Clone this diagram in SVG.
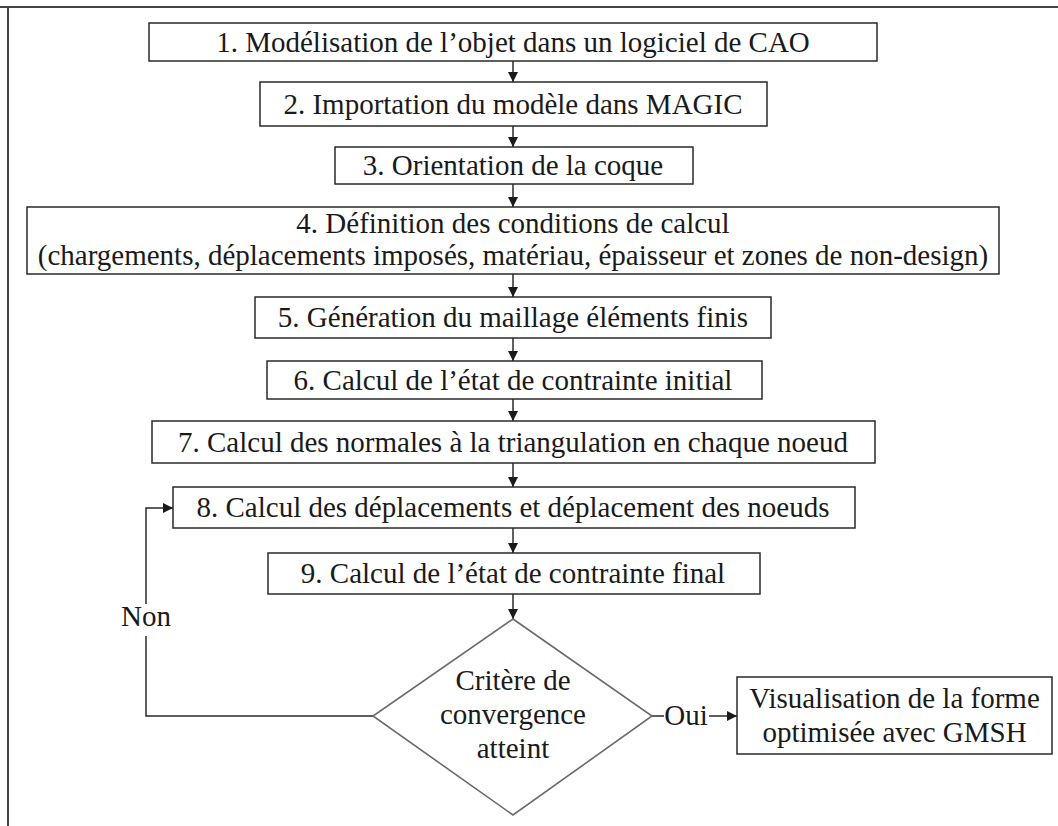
<svg xmlns="http://www.w3.org/2000/svg" width="1058" height="826" viewBox="0 0 1058 826">
<style>
  .box { fill: #ffffff; stroke: #2a2a2a; stroke-width: 1.5; }
  .dia { fill: #ffffff; stroke: #6a6a6a; stroke-width: 1.6; }
  .t { font-family: "Liberation Serif", "Times New Roman", serif; font-size: 29px; fill: #1a1a1a; text-anchor: middle; }
  .ln { fill: none; stroke: #2a2a2a; stroke-width: 1.5; }
  .frame { fill: none; stroke: #444; stroke-width: 2; }
</style>
<defs>
  <marker id="ah" viewBox="0 0 10 10" refX="10" refY="5" markerWidth="10" markerHeight="10" markerUnits="userSpaceOnUse" orient="auto">
    <path d="M0,0 L10,5 L0,10 z" fill="#1a1a1a"/>
  </marker>
</defs>
<rect width="1058" height="826" fill="#ffffff"/>
<g id="frame">
  <line class="frame" x1="0" y1="7" x2="1058" y2="7"/>
  <line class="frame" x1="8" y1="7" x2="8" y2="826"/>
</g>
<g id="connectors">
  <line class="ln" x1="513" y1="61" x2="513" y2="82" marker-end="url(#ah)"/>
  <line class="ln" x1="513" y1="126" x2="513" y2="147" marker-end="url(#ah)"/>
  <line class="ln" x1="513" y1="184" x2="513" y2="207" marker-end="url(#ah)"/>
  <line class="ln" x1="513" y1="274" x2="513" y2="297" marker-end="url(#ah)"/>
  <line class="ln" x1="513" y1="338" x2="513" y2="361" marker-end="url(#ah)"/>
  <line class="ln" x1="513" y1="399" x2="513" y2="421" marker-end="url(#ah)"/>
  <line class="ln" x1="513" y1="463" x2="513" y2="487" marker-end="url(#ah)"/>
  <line class="ln" x1="513" y1="528" x2="513" y2="553" marker-end="url(#ah)"/>
  <line class="ln" x1="513" y1="594" x2="513" y2="619" marker-end="url(#ah)"/>
  <polyline class="ln" points="373,716 146,716 146,636"/>
  <polyline class="ln" points="146,604 146,508 173,508" marker-end="url(#ah)"/>
  <line class="ln" x1="652" y1="716" x2="664" y2="716"/>
  <line class="ln" x1="709" y1="716" x2="737" y2="716" marker-end="url(#ah)"/>
  <text class="t" x="146" y="626">Non</text>
  <text class="t" x="686" y="725">Oui</text>
</g>
<g id="n1"><rect class="box" x="149" y="23" width="728" height="38"/><text class="t" x="513" y="52">1. Modélisation de l’objet dans un logiciel de CAO</text></g>
<g id="n2"><rect class="box" x="260" y="82" width="507" height="44"/><text class="t" x="513" y="114">2. Importation du modèle dans MAGIC</text></g>
<g id="n3"><rect class="box" x="335" y="147" width="358" height="37"/><text class="t" x="513" y="175">3. Orientation de la coque</text></g>
<g id="n4"><rect class="box" x="27" y="207" width="972" height="67"/><text class="t" x="513" y="233">4. Définition des conditions de calcul</text><text class="t" x="513" y="265">(chargements, déplacements imposés, matériau, épaisseur et zones de non-design)</text></g>
<g id="n5"><rect class="box" x="255" y="297" width="516" height="41"/><text class="t" x="513" y="327">5. Génération du maillage éléments finis</text></g>
<g id="n6"><rect class="box" x="267" y="361" width="495" height="38"/><text class="t" x="513" y="390">6. Calcul de l’état de contrainte initial</text></g>
<g id="n7"><rect class="box" x="152" y="421" width="723" height="42"/><text class="t" x="513" y="452">7. Calcul des normales à la triangulation en chaque noeud</text></g>
<g id="n8"><rect class="box" x="173" y="487" width="682" height="41"/><text class="t" x="513" y="517">8. Calcul des déplacements et déplacement des noeuds</text></g>
<g id="n9"><rect class="box" x="268" y="553" width="492" height="41"/><text class="t" x="513" y="583">9. Calcul de l’état de contrainte final</text></g>
<g id="n10"><polygon class="dia" points="513,619 652,716 513,815 373,716"/><text class="t" x="513" y="690">Critère de</text><text class="t" x="513" y="724">convergence</text><text class="t" x="513" y="758">atteint</text></g>
<g id="n11"><rect class="box" x="737" y="677" width="315" height="77"/><text class="t" x="894.5" y="708">Visualisation de la forme</text><text class="t" x="894.5" y="742">optimisée avec GMSH</text></g>
</svg>
